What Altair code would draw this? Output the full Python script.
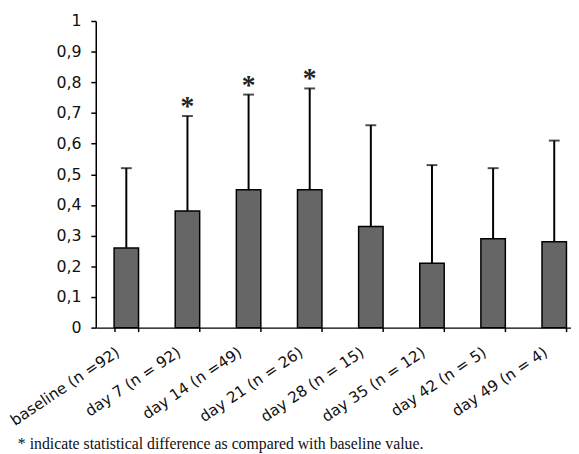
import altair as alt
import pandas as pd

categories = ["baseline (n =92)", "day 7 (n = 92)", "day 14 (n =49)", "day 21 (n = 26)",
              "day 28 (n = 15)", "day 35 (n = 12)", "day 42 (n = 5)", "day 49 (n = 4)"]
means = [0.26, 0.38, 0.45, 0.45, 0.33, 0.21, 0.29, 0.28]
upper = [0.52, 0.69, 0.76, 0.78, 0.66, 0.53, 0.52, 0.61]
signif = ["", "*", "*", "*", "", "", "", ""]
y_ticks = [0, 0.1, 0.2, 0.3, 0.4, 0.5, 0.6, 0.7, 0.8, 0.9, 1.0]
footnote = "* indicate statistical difference as compared with baseline value."

df = pd.DataFrame({"cat": categories, "mean": means, "upper": upper, "sig": signif})

x_enc = alt.X(
    "cat:N", sort=categories, title=None,
    scale=alt.Scale(range=[0, 496], paddingInner=0.6, paddingOuter=0.3),
    axis=alt.Axis(
        labelAngle=326, labelAlign="right", labelBaseline="middle",
        labelFont="DejaVu Sans", labelFontSize=15.5, labelColor="#111",
        labelOffset=-9, labelPadding=19, tickBand="extent", tickSize=4,
        tickColor="black", tickWidth=1.5, domainColor="black", domainWidth=1.5,
        grid=False, labelOverlap=False,
    ),
)

y_scale = alt.Scale(domain=[0, 1], nice=False)
y_axis = alt.Axis(
    values=y_ticks, title=None, grid=False, tickSize=5, labelPadding=10,
    labelFont="DejaVu Sans", labelFontSize=16, labelColor="#111", labelOverlap=False,
    labelBound=False, labelFlush=False,
    tickColor="black", tickWidth=1.5, domainColor="black", domainWidth=1.5,
    labelExpr="datum.value == 0 ? '0' : (datum.value == 1 ? '1' : replace(format(datum.value, '.1f'), '.', ','))",
)


def y_enc(field):
    return alt.Y(field, type="quantitative", scale=y_scale, axis=y_axis)


base = alt.Chart(df)

bars = base.mark_bar(fill="#666666", stroke="black", strokeWidth=1.5).encode(
    x=x_enc, y=y_enc("mean")
)

err = base.mark_rule(color="black", strokeWidth=2).encode(
    x=x_enc, y=y_enc("mean"), y2="upper:Q"
)

caps = base.mark_tick(color="black", size=11, thickness=2).encode(
    x=x_enc, y=y_enc("upper")
)

stars = base.transform_filter("datum.sig != ''").mark_text(
    font="Liberation Serif", fontSize=28, fontWeight="bold", baseline="alphabetic",
    dy=-1, color="#222"
).encode(x=x_enc, y=y_enc("upper"), text="sig:N")

chart = alt.layer(bars, err, caps, stars).properties(
    width=482, height=311,
    autosize=alt.AutoSizeParams(type="none"),
    padding={"left": 89, "top": 10, "right": 0, "bottom": 125},
    background="white",
    title=alt.TitleParams(
        footnote, orient="bottom", anchor="start", frame="group", dx=-79, offset=8,
        font="Liberation Serif", fontSize=16, fontWeight="normal", color="#111",
    ),
).configure_view(stroke=None)

chart.save("out.html", embed_options={"renderer": "svg", "actions": False})
